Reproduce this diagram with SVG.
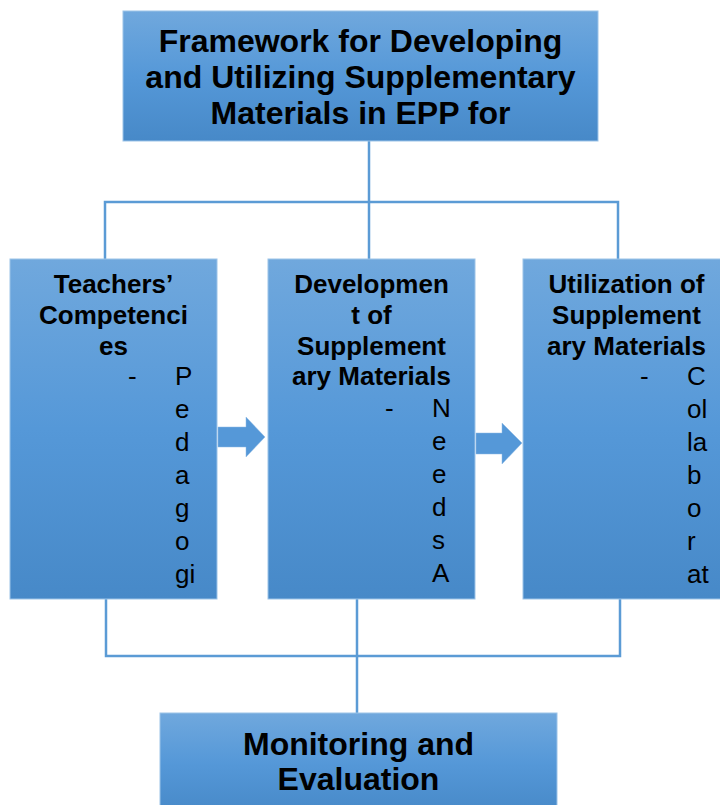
<svg xmlns="http://www.w3.org/2000/svg" width="720" height="805" viewBox="0 0 720 805">
<defs>
<linearGradient id="g" x1="0" y1="0" x2="0" y2="1">
<stop offset="0" stop-color="#70a8dd"/>
<stop offset="0.5" stop-color="#5598d8"/>
<stop offset="1" stop-color="#4789c8"/>
</linearGradient>
<clipPath id="c1"><rect x="10" y="259" width="207" height="330"/></clipPath>
<clipPath id="c2"><rect x="268" y="259" width="207" height="330"/></clipPath>
<clipPath id="c3"><rect x="523" y="259" width="207" height="330"/></clipPath>
</defs>
<style>
.box{fill:url(#g);stroke:#9cc3e8;stroke-width:1}
.conn{fill:none;stroke:#5b9bd5;stroke-width:2.5}
.arrow{fill:#5598d8;stroke:#8db9e4;stroke-width:0.5}
.t{font-family:"Liberation Sans",Arial,sans-serif;font-weight:bold;fill:#000;text-anchor:middle}
.big{font-size:32px}
.mid{font-size:26px}
.r{font-family:"Liberation Sans",Arial,sans-serif;font-size:26px;fill:#000}
</style>
<g id="connectors">
<path class="conn" d="M369 141 V202 M105 260 V202 H618 V260 M369 202 V260"/>
<path class="conn" d="M106 599 V656 H620 V599 M357 599 V713"/>
</g>
<g id="top">
<rect class="box" x="123" y="11" width="475" height="130"/>
<text class="t big" x="360.5" y="52">Framework for Developing</text>
<text class="t big" x="360.5" y="88">and Utilizing Supplementary</text>
<text class="t big" x="360.5" y="124">Materials in EPP for</text>
</g>
<g id="teachers">
<rect class="box" x="10" y="259" width="207" height="340"/>
<text class="t mid" x="113.5" y="293">Teachers’</text>
<text class="t mid" x="113.5" y="324">Competenci</text>
<text class="t mid" x="113.5" y="355">es</text>
<g clip-path="url(#c1)">
<text class="r" x="128" y="385">-</text>
<text class="r" x="175" y="385">P</text>
<text class="r" x="175" y="418">e</text>
<text class="r" x="175" y="451">d</text>
<text class="r" x="175" y="484">a</text>
<text class="r" x="175" y="517">g</text>
<text class="r" x="175" y="550">o</text>
<text class="r" x="175" y="583">gi</text>
</g>
</g>
<g id="development">
<rect class="box" x="268" y="259" width="207" height="340"/>
<text class="t mid" x="371.5" y="293">Developmen</text>
<text class="t mid" x="371.5" y="324">t of</text>
<text class="t mid" x="371.5" y="355">Supplement</text>
<text class="t mid" x="371.5" y="385">ary Materials</text>
<g clip-path="url(#c2)">
<text class="r" x="385" y="417">-</text>
<text class="r" x="432" y="417">N</text>
<text class="r" x="432" y="450">e</text>
<text class="r" x="432" y="483">e</text>
<text class="r" x="432" y="516">d</text>
<text class="r" x="432" y="549">s</text>
<text class="r" x="432" y="582">A</text>
</g>
</g>
<g id="utilization">
<rect class="box" x="523" y="259" width="207" height="340"/>
<text class="t mid" x="626.5" y="293">Utilization of</text>
<text class="t mid" x="626.5" y="324">Supplement</text>
<text class="t mid" x="626.5" y="355">ary Materials</text>
<g clip-path="url(#c3)">
<text class="r" x="640" y="385">-</text>
<text class="r" x="687" y="385">C</text>
<text class="r" x="687" y="418">ol</text>
<text class="r" x="687" y="451">la</text>
<text class="r" x="687" y="484">b</text>
<text class="r" x="687" y="517">o</text>
<text class="r" x="687" y="550">r</text>
<text class="r" x="687" y="583">at</text>
</g>
</g>
<g id="arrow1">
<path class="arrow" d="M218 427 H246 V417 L265 437 L246 457 V447 H218 Z"/>
</g>
<g id="arrow2">
<path class="arrow" d="M476 433 H502 V423 L522 443 L502 464 V454 H476 Z"/>
</g>
<g id="monitoring">
<rect class="box" x="160" y="713" width="397" height="100"/>
<text class="t big" x="358.5" y="755">Monitoring and</text>
<text class="t big" x="358.5" y="790">Evaluation</text>
</g>
</svg>
